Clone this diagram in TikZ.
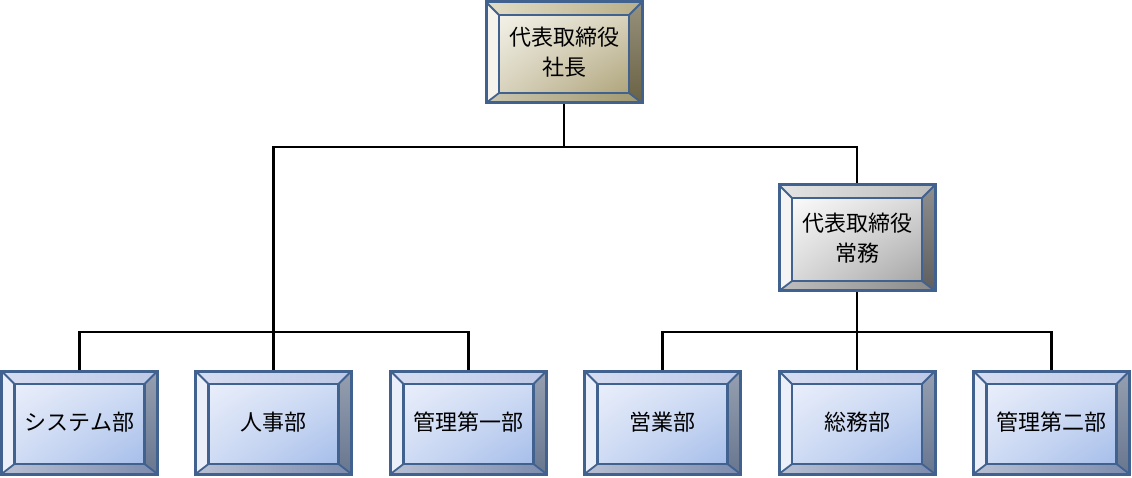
\documentclass[tikz,border=0pt]{standalone}
\usepackage{fontspec}
\newfontfamily\jp{Noto Sans CJK JP}
\usetikzlibrary{calc,shadings}
\definecolor{edge}{HTML}{41618F}
% tan box
\definecolor{tanA}{HTML}{F3F1E8}\definecolor{tanB}{HTML}{AFA47B}
\definecolor{tanT}{HTML}{E2DDC6}\definecolor{tanTT}{HTML}{B8AE88}
\definecolor{tanL}{HTML}{F5F3EC}\definecolor{tanR}{HTML}{6A6244}
\definecolor{tanD}{HTML}{A09870}
% gray box
\definecolor{grA}{HTML}{FAFAFA}\definecolor{grB}{HTML}{A6A6A6}
\definecolor{grT}{HTML}{E4E4E4}\definecolor{grTT}{HTML}{BDBDBD}
\definecolor{grL}{HTML}{F4F4F4}\definecolor{grR}{HTML}{5E5E5E}
\definecolor{grD}{HTML}{8A8A8A}
% blue box
\definecolor{blA}{HTML}{E9EEFA}\definecolor{blB}{HTML}{A6BEEA}
\definecolor{blT}{HTML}{D6DDF2}\definecolor{blTT}{HTML}{BCC8E6}
\definecolor{blL}{HTML}{EAEFF9}\definecolor{blR}{HTML}{68768F}
\definecolor{blD}{HTML}{7D8CAE}
\tikzset{
  conn/.style={line width=2.8pt, black},
  bevel/.style n args={7}{
    draw=edge, line width=3pt, inner sep=0pt,
    minimum width=156pt, minimum height=103pt,
    font=\jp\fontsize{22}{30}\selectfont, align=center,
    path picture={
      \coordinate (PA) at (path picture bounding box.north west);
      \coordinate (PB) at (path picture bounding box.north east);
      \coordinate (PC) at (path picture bounding box.south east);
      \coordinate (PD) at (path picture bounding box.south west);
      \coordinate (QA) at ($(PA)+(13,13)$);
      \coordinate (QB) at ($(PB)+(-13,13)$);
      \coordinate (QC) at ($(PC)+(-13,-10)$);
      \coordinate (QD) at ($(PD)+(13,-10)$);
      \shade[left color=#3, right color=#4] (PA) -- (PB) -- (QB) -- (QA) -- cycle;
      \fill[#5] (PA) -- (QA) -- (QD) -- (PD) -- cycle;
      \shade[top color=#6!70!white, bottom color=#6] (PB) -- (PC) -- (QC) -- (QB) -- cycle;
      \shade[left color=#7!55!white, right color=#7] (PD) -- (PC) -- (QC) -- (QD) -- cycle;
      \shade[upper left=#1, upper right=#1!60!#2, lower left=#1!60!#2, lower right=#2] (QA) rectangle (QC);
      \draw[edge, line width=2.6pt, line join=miter] (QA) rectangle (QC);
      \draw[edge, line width=1.8pt] (PA) -- (QA) (PB) -- (QB) (PC) -- (QC) (PD) -- (QD);
    }
  },
  tanbox/.style={bevel={tanA}{tanB}{tanT}{tanTT}{tanL}{tanR}{tanD}},
  graybox/.style={bevel={grA}{grB}{grT}{grTT}{grL}{grR}{grD}, minimum height=106pt},
  bluebox/.style={bevel={blA}{blB}{blT}{blTT}{blL}{blR}{blD}},
}
\begin{document}
\begin{tikzpicture}[x=1pt, y=-1pt]
\useasboundingbox (0,0) rectangle (1132,478);
\node[tanbox, minimum height=101pt] (pres) at (564,52.5) {代表取締役\\社長};
\node[graybox] (exec) at (857,238) {代表取締役\\常務};
\node[bluebox] (sys) at (79.5,422.5) {システム部};
\node[bluebox] (hr)  at (273.5,422.5) {人事部};
\node[bluebox] (adm1) at (468.5,422.5) {管理第一部};
\node[bluebox] (sales) at (662.5,422.5) {営業部};
\node[bluebox] (gen) at (857,422.5) {総務部};
\node[bluebox] (adm2) at (1051.5,422.5) {管理第二部};
\draw[conn] (pres.south) -- (pres.south |- 0,147) coordinate (j1) -| (hr.north);
\draw[conn] (j1) -| (exec.north);
\draw[conn] (sys.north) -- (sys.north |- 0,332) -| (adm1.north);
\draw[conn] (exec.south) -- (gen.north);
\draw[conn] (sales.north) -- (sales.north |- 0,332) -| (adm2.north);
\end{tikzpicture}
\end{document}
